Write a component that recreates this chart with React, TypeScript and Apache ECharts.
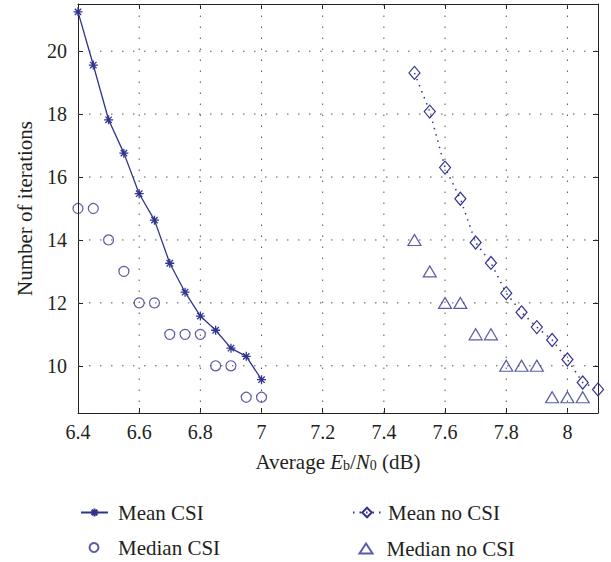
import React, { useEffect, useRef } from "react";
import * as echarts from "echarts";

const meanCsiX = [6.4, 6.45, 6.5, 6.55, 6.6, 6.65, 6.7, 6.75, 6.8, 6.85, 6.9, 6.95, 7.0];
const meanCsiY = [21.25, 19.56, 17.82, 16.76, 15.47, 14.63, 13.26, 12.34, 11.58, 11.13, 10.56, 10.3, 9.56];
const medianCsiY = [15, 15, 14, 13, 12, 12, 11, 11, 11, 10, 10, 9, 9];

const meanNoCsiX = [7.5, 7.55, 7.6, 7.65, 7.7, 7.75, 7.8, 7.85, 7.9, 7.95, 8.0, 8.05, 8.1];
const meanNoCsiY = [19.31, 18.08, 16.3, 15.31, 13.92, 13.27, 12.31, 11.7, 11.23, 10.82, 10.2, 9.47, 9.25];
const medianNoCsiX = [7.5, 7.55, 7.6, 7.65, 7.7, 7.75, 7.8, 7.85, 7.9, 7.95, 8.0, 8.05];
const medianNoCsiY = [14, 13, 12, 12, 11, 11, 10, 10, 10, 9, 9, 9];

const xTicks = [6.4, 6.6, 6.8, 7.0, 7.2, 7.4, 7.6, 7.8, 8.0];
const yTicks = [10, 12, 14, 16, 18, 20];

const X_MIN = 6.4;
const X_MAX = 8.1;
const Y_MIN = 8.5;
const Y_MAX = 21.5;

const BLUE = "#31338f";
const TEXT = "#231f20";
const FONT = "Liberation Serif";

const zip = (xs: number[], ys: number[]) => ys.map((y, i) => [xs[i], y]);

const ASTERISK =
  "path://M0,-5L0,5M-5,0L5,0M-3.54,-3.54L3.54,3.54M-3.54,3.54L3.54,-3.54";

export default function App() {
  const ref = useRef<HTMLDivElement>(null);

  useEffect(() => {
    if (!ref.current) return;
    const chart = echarts.init(ref.current, undefined, { renderer: "svg" });

    const gridStyle = { type: [1.5, 9.5], color: "#555", width: 1 };

    const gridSeries = [
      ...yTicks.map((v) => [
        [X_MIN, v],
        [X_MAX, v],
      ]),
      ...xTicks
        .filter((v) => v > X_MIN)
        .map((v) => [
          [v, Y_MIN],
          [v, Y_MAX],
        ]),
    ].map((pts, i) => ({
      name: "grid" + i,
      type: "line",
      data: pts,
      symbol: "none",
      silent: true,
      lineStyle: gridStyle,
      z: 1,
      emphasis: { disabled: true },
    }));

    const legendText = (pad: number) => ({
      fontFamily: FONT,
      fontSize: 21,
      color: TEXT,
      padding: [0, 0, 0, pad],
    });

    const boxAxis = {
      type: "value",
      axisLine: { show: true, onZero: false, lineStyle: { color: "#222", width: 1 } },
      splitLine: { show: false },
    };

    chart.setOption({
      animation: false,
      textStyle: { fontFamily: FONT },
      grid: {
        left: 78,
        right: 13,
        top: 4,
        bottom: 149,
        containLabel: false,
        outerBoundsMode: "none",
      },
      xAxis: [
        {
          ...boxAxis,
          min: X_MIN,
          max: X_MAX,
          position: "bottom",
          axisTick: { show: true, inside: true, length: 5, customValues: xTicks, lineStyle: { color: "#222" } },
          axisLabel: { customValues: xTicks, fontFamily: FONT, fontSize: 20, color: TEXT, margin: 9 },
          name: "{n|Average }{i|E}{s|b}{n|/}{i|N}{s|0}{n| (dB)}",
          nameLocation: "middle",
          nameGap: 33,
          nameTextStyle: {
            fontFamily: FONT,
            color: TEXT,
            rich: {
              n: { fontFamily: FONT, fontSize: 21, color: TEXT, lineHeight: 26, verticalAlign: "bottom" },
              i: { fontFamily: FONT, fontSize: 21, color: TEXT, fontStyle: "italic", lineHeight: 26, verticalAlign: "bottom" },
              s: { fontFamily: FONT, fontSize: 14, color: TEXT, lineHeight: 14, verticalAlign: "bottom" },
            },
          },
        },
        {
          ...boxAxis,
          min: X_MIN,
          max: X_MAX,
          position: "top",
          axisTick: { show: true, inside: true, length: 5, customValues: xTicks, lineStyle: { color: "#222" } },
          axisLabel: { show: false },
        },
      ],
      yAxis: [
        {
          ...boxAxis,
          min: Y_MIN,
          max: Y_MAX,
          position: "left",
          axisTick: { show: true, inside: true, length: 5, customValues: yTicks, lineStyle: { color: "#222" } },
          axisLabel: { customValues: yTicks, fontFamily: FONT, fontSize: 20, color: TEXT, margin: 11 },
          name: "Number of iterations",
          nameLocation: "middle",
          nameGap: 43,
          nameRotate: 90,
          nameTextStyle: { fontFamily: FONT, fontSize: 21, color: TEXT },
        },
        {
          ...boxAxis,
          min: Y_MIN,
          max: Y_MAX,
          position: "right",
          axisTick: { show: true, inside: true, length: 5, customValues: yTicks, lineStyle: { color: "#222" } },
          axisLabel: { show: false },
        },
      ],
      legend: [
        { padding: 0, selectedMode: false, data: ["Mean CSI"], left: 80, top: 502, itemWidth: 27, itemHeight: 10, textStyle: legendText(5) },
        { padding: 0, selectedMode: false, data: ["Median CSI"], left: 88.5, top: 537, itemWidth: 9, itemHeight: 9, textStyle: legendText(14.5) },
        { padding: 0, selectedMode: false, data: ["Mean no CSI"], left: 352, top: 502, itemWidth: 28, itemHeight: 12, textStyle: legendText(2) },
        { padding: 0, selectedMode: false, data: ["Median no CSI"], left: 358.5, top: 538, itemWidth: 13, itemHeight: 10, textStyle: legendText(9) },
      ],
      series: [
        ...gridSeries,
        {
          name: "Mean CSI",
          type: "line",
          data: zip(meanCsiX, meanCsiY),
          symbol: ASTERISK,
          symbolSize: 9,
          showAllSymbol: true,
          lineStyle: { color: BLUE, width: 1.3 },
          itemStyle: { color: "rgba(0,0,0,0)", borderColor: BLUE, borderWidth: 1.3 },
          z: 3,
        },
        {
          name: "Median CSI",
          type: "scatter",
          data: zip(meanCsiX, medianCsiY),
          symbol: "circle",
          symbolSize: 10,
          itemStyle: { color: "rgba(0,0,0,0)", borderColor: BLUE, borderWidth: 1.2 },
          z: 3,
        },
        {
          name: "Mean no CSI",
          type: "line",
          data: zip(meanNoCsiX, meanNoCsiY),
          symbol: "diamond",
          symbolSize: [11, 13],
          showAllSymbol: true,
          lineStyle: { color: BLUE, width: 1.5, type: [1.5, 5] },
          itemStyle: { color: "rgba(0,0,0,0)", borderColor: BLUE, borderWidth: 1.2 },
          z: 3,
        },
        {
          name: "Median no CSI",
          type: "scatter",
          data: zip(medianNoCsiX, medianNoCsiY),
          symbol: "triangle",
          symbolSize: [13, 11],
          itemStyle: { color: "rgba(0,0,0,0)", borderColor: BLUE, borderWidth: 1.2 },
          z: 3,
        },
      ],
    });

    return () => chart.dispose();
  }, []);

  return <div ref={ref} style={{ width: 611, height: 562, position: "absolute", left: 0, top: 0 }} />;
}
